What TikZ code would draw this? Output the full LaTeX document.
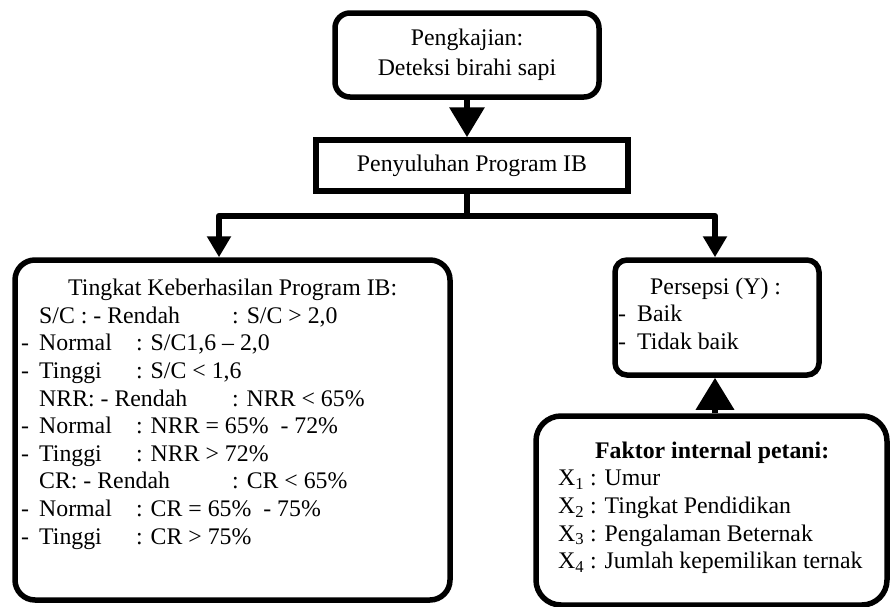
\documentclass[tikz,border=0pt]{standalone}
\usepackage{fontspec}
\setmainfont{Liberation Serif}
\usepackage{tikz}
\usetikzlibrary{arrows.meta}
\usepackage{xcolor}
\definecolor{ColLine}{RGB}{0,0,0}
\tikzstyle{BoxFlow}=[draw=ColLine,line width=5.5pt,rounded corners=15pt,inner sep=0pt,
font=\fontsize{23.8}{27.6}\selectfont]
\tikzstyle{TextFlow}=[anchor=north west,inner sep=0pt,align=left,
font=\fontsize{23.8}{27.6}\selectfont]
\tikzstyle{EdgeFlow}=[ColLine,line width=6.5pt,line join=round]
\tikzstyle{TipFlow}=[-{Triangle[width=23pt,length=21pt]}]
\begin{document}
\begin{tikzpicture}[x=1pt,y=-1pt]
        \useasboundingbox(0,0)rectangle(892,606);
        \node[BoxFlow,minimum width=264pt,minimum height=84pt,align=center](kajian)at(467,55){Pengkajian:\\[2.4pt]Deteksi birahi sapi};
        \node[BoxFlow,sharp corners,minimum width=312pt,minimum height=51pt](suluh)at(472,165.5){Penyuluhan Program IB};
        \node[BoxFlow,rounded corners=20pt,minimum width=435pt,minimum height=340pt](hasil)at(232.5,430){};
        \node[BoxFlow,rounded corners=12pt,minimum width=204pt,minimum height=115pt](persepsi)at(717,317.5){};
        \node[BoxFlow,rounded corners=25pt,minimum width=351pt,minimum height=189pt](faktor)at(711.5,510.5){};
        \node[TextFlow](hasilteks)at(21,279){\hspace*{47pt}Tingkat Keberhasilan Program IB:\\
        \hspace*{18pt}\makebox[193pt][l]{S/C : - Rendah}: S/C > 2,0\\
        \makebox[18pt][l]{-}\makebox[97pt][l]{Normal}: S/C1,6 -- 2,0\\
        \makebox[18pt][l]{-}\makebox[97pt][l]{Tinggi}: S/C < 1,6\\
        \hspace*{18pt}\makebox[193pt][l]{NRR: - Rendah}: NRR < 65\%\\
        \makebox[18pt][l]{-}\makebox[97pt][l]{Normal}: NRR = 65\%\ \ - 72\%\\
        \makebox[18pt][l]{-}\makebox[97pt][l]{Tinggi}: NRR > 72\%\\
        \hspace*{18pt}\makebox[193pt][l]{CR: - Rendah}: CR < 65\%\\
        \makebox[18pt][l]{-}\makebox[97pt][l]{Normal}: CR = 65\%\ \ - 75\%\\
        \makebox[18pt][l]{-}\makebox[97pt][l]{Tinggi}: CR > 75\%};
        \node[TextFlow](persepsiteks)at(618,277.5){\hspace*{32pt}Persepsi (Y) :\\
        \makebox[19pt][l]{-}Baik\\
        \makebox[19pt][l]{-}Tidak baik};
        \node[TextFlow](faktorteks)at(558,441.5){\hspace*{37pt}\textbf{Faktor internal petani:}\\
        X\textsubscript{1} : Umur\\
        X\textsubscript{2} : Tingkat Pendidikan\\
        X\textsubscript{3} : Pengalaman Beternak\\
        X\textsubscript{4} : Jumlah kepemilikan ternak};
        \coordinate(pusat)at(467,216);
        \coordinate(kiri)at(219,216);
        \coordinate(kanan)at(715,216);
        \draw[EdgeFlow,-{Triangle[width=34pt,length=30pt]}](kajian.south)--(kajian.south|-suluh.north);
        \draw[EdgeFlow](kajian.south|-suluh.south)--(pusat);
        \draw[EdgeFlow,TipFlow](pusat)--(kiri)--(kiri|-hasil.north);
        \draw[EdgeFlow,TipFlow](pusat)--(kanan)--(kanan|-persepsi.north);
        \draw[EdgeFlow,-{Triangle[width=37pt,length=32pt]}](kanan|-faktor.north)--(kanan|-persepsi.south);
    \end{tikzpicture}
\end{document}
